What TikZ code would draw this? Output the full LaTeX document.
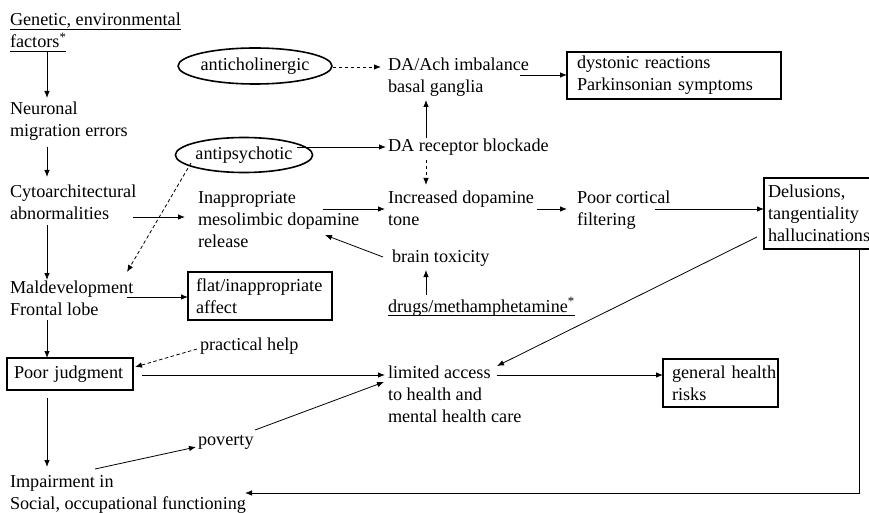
\documentclass[tikz,border=0pt]{standalone}
\usepackage{fontspec}
\setmainfont{Liberation Serif}
\usetikzlibrary{arrows.meta,shapes.geometric,calc}
% underline drawn a fixed distance below the baseline
\newsavebox\ulinebox
\newcommand\ulined[1]{\sbox\ulinebox{#1}\rlap{\rule[-3.5pt]{\wd\ulinebox}{0.9pt}}\usebox\ulinebox}
\begin{document}
\begin{tikzpicture}[x=1pt,y=-1pt,
  font=\fontsize{18.2}{22}\selectfont,
  % labels are placed by the baseline of their last line
  lbl/.style={anchor=base west,inner sep=0pt,outer sep=0pt,align=left},
  boxed/.style={draw,line width=1.7pt,anchor=north west,inner xsep=#1,inner ysep=0pt,outer sep=0pt,align=left},
  oval/.style={draw,ellipse,line width=1.6pt,inner sep=0pt,outer sep=0pt},
  arr/.style={line width=0.8pt,-{Latex[length=7pt,width=5.5pt]}},
  darr/.style={arr,dash pattern=on 3.5pt off 2.5pt},
]
\useasboundingbox (0,0) rectangle (869,513);
\clip (0,0) rectangle (869,513);

% left column
\node[lbl] (gen)  at (10,48)  {\ulined{Genetic, environmental}\\\ulined{factors\textsuperscript{*}}};
\node[lbl] (neu)  at (10,137) {Neuronal\\migration errors};
\node[lbl] (cyto) at (10,219) {Cytoarchitectural\\abnormalities};
\node[lbl] (mal)  at (10,315) {Maldevelopment\\Frontal lobe};
\node[boxed=7pt,text width=112pt,minimum width=126pt,minimum height=32pt] (poorj) at (7,358) {Poor judgment};
\node[lbl] (imp)  at (10,509) {Impairment in\\Social, occupational functioning};

% medication and dopamine pathway
\node[oval,minimum width=134pt,minimum height=36pt] (anticho) at (255,66) {anticholinergic};
\node[oval,minimum width=117pt,minimum height=35pt] (antipsy) at (244,155) {antipsychotic};
\node[lbl] (daach) at (388,93)  {DA/Ach imbalance\\basal ganglia};
\node[boxed=10pt,text width=194pt,minimum width=214pt,minimum height=47pt] (dyst) at (567,52) {dystonic reactions\\Parkinsonian symptoms};
\node[lbl] (darec) at (388,152) {DA receptor blockade};
\node[lbl] (inapp) at (198,247) {Inappropriate\\mesolimbic dopamine\\release};
\node[lbl] (incr)  at (388,225) {Increased dopamine\\tone};
\node[lbl] (poorc) at (577,225) {Poor cortical\\filtering};
\node[boxed=4pt,text width=104pt,minimum width=112pt,minimum height=71pt] (delus) at (764,178) {Delusions,\\tangentiality\\hallucinations};
\node[lbl] (brain) at (392,262) {brain toxicity};
\node[lbl] (drugs) at (388,312) {\ulined{drugs/methamphetamine\textsuperscript{*}}};
\node[boxed=8pt,text width=128pt,minimum width=144pt,minimum height=48pt] (flat) at (188,272) {flat/inappropriate\\affect};

% care and social consequences
\node[lbl] (pract)   at (200,350) {practical help};
\node[lbl] (limited) at (388,422) {limited access\\to health and\\mental health care};
\node[boxed=0pt,text width=115pt,minimum height=48pt] (general) at (663,359) {\hspace*{9pt}general health\\\hspace*{9pt}risks};
\node[lbl] (poverty) at (198,445) {poverty};

% connectors
\draw[arr] ($(gen.base west)+(37,4)$) -- ($(neu.base west)+(37,-39)$);
\draw[arr] ($(neu.base west)+(37,10)$) -- ($(cyto.base west)+(37,-42)$);
\draw[arr] ($(cyto.base west)+(37,6)$) -- ($(mal.base west)+(37,-35)$);
\draw[arr] ($(mal.base west)+(37,5)$) -- ($(poorj.north west)+(40,0)$);
\draw[arr] ($(poorj.south west)+(40,8)$) -- ($(imp.base west)+(37,-42)$);
\draw[arr] ($(cyto.base west)+(123,-2)$) -- ($(inapp.base west)+(-13,-30)$);

\draw[darr] ($(anticho.east)+(1,1)$) -- ($(daach.base west)+(-7,-26)$);
\draw[arr] ($(daach.base west)+(132,-18)$) -- ($(dyst.north west)+(0,23)$);
\draw[arr] ($(antipsy.center)+(53,-8)$) -- ($(darec.base west)+(-2,-5)$);
\draw[arr] ($(darec.base west)+(38,-14)$) -- ($(daach.base west)+(38,7)$);
\draw[darr] ($(darec.base west)+(38,8)$) -- ($(incr.base west)+(38,-40)$);
\draw[arr] ($(inapp.base west)+(125,-38)$) -- ($(incr.base west)+(-3,-16)$);
\draw[arr] ($(incr.base west)+(149,-16)$) -- ($(poorc.base west)+(-10,-16)$);
\draw[arr] ($(poorc.base west)+(78,-16)$) -- ($(delus.north west)+(0,31)$);

\draw[darr] ($(antipsy.center)+(-53,8)$) -- ($(mal.base west)+(117,-43)$);
\draw[arr] ($(mal.base west)+(117,-18)$) -- ($(flat.north west)+(0,25)$);
\draw[arr] ($(brain.base west)+(-9,-5)$) -- ($(inapp.base west)+(127,-12)$);
\draw[arr] ($(drugs.base west)+(38,-17)$) -- ($(brain.base west)+(34,8)$);

\draw[darr] ($(pract.base west)+(-3,-1)$) -- ($(poorj.north east)+(2,9)$);
\draw[arr] ($(poorj.north east)+(9,17)$) -- ($(limited.base west)+(-3,-47)$);
\draw[arr] ($(delus.north west)+(-7,59)$) -- ($(limited.base west)+(109,-56)$);
\draw[arr] ($(limited.base west)+(109,-47)$) -- ($(general.north west)+(0,16)$);
\draw[arr] ($(imp.base west)+(85,-40)$) -- ($(poverty.base west)+(-2,2)$);
\draw[arr] ($(poverty.base west)+(57,-15)$) -- ($(limited.base west)+(-4,-40)$);
\draw[arr] ($(delus.south west)+(95,0)$) |- ($(imp.base west)+(235,-16)$);
\end{tikzpicture}
\end{document}
